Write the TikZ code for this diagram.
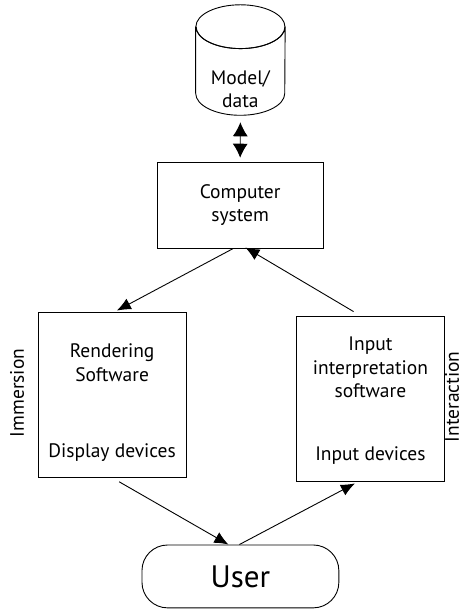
\documentclass[tikz,border=0pt]{standalone}
\usepackage{fontspec}
\setmainfont{PT Sans}
\usetikzlibrary{arrows.meta,positioning}
\tikzset{
  >={Latex[length=14pt,width=12pt]},
  box/.style 2 args={draw,line width=0.9pt,minimum width=#1,minimum height=#2,inner sep=0pt},
  dbarea/.style 2 args={minimum width=#1,minimum height=#2,inner sep=0pt},
  dbline/.style={line width=0.9pt},
  txt/.style={inner sep=0pt,align=center,font=\fontsize{19.5}{23.5}\selectfont},
  side/.style={txt,rotate=90},
  conn/.style={->,line width=0.9pt},
  dconn/.style={{Latex[length=14pt,width=15pt]}-{Latex[length=14pt,width=15pt]},line width=0.9pt},
}
\begin{document}
\begin{tikzpicture}
\useasboundingbox (0,0) rectangle (16.35cm,-21.44cm);
% --- Nodes -------------------------------------------------------------------

  \node[dbarea={3.13cm}{3.87cm}] (db) at (8.45cm,-2.11cm) {};
  \draw[dbline] ([yshift=-0.77cm]db.north west) -- ([yshift=0.77cm]db.south west)
    arc[start angle=180,end angle=360,x radius=1.565cm,y radius=0.77cm]
    -- ([yshift=-0.77cm]db.north east)
    arc[start angle=0,end angle=-180,x radius=1.565cm,y radius=0.77cm];
  \draw[dbline] ([yshift=-0.77cm]db.north) ellipse[x radius=1.565cm,y radius=0.77cm];
  \node[txt] (dbtxt) at (8.45cm,-3.13cm) {Model/\\data};

  \node[box={5.83cm}{3.02cm},txt] (comp) at (8.44cm,-7.21cm) {Computer\\system};

  \node[box={5.20cm}{5.83cm}] (rend) at (3.94cm,-13.88cm) {};
  \node[txt,below=1.14cm of rend.north] (rendsw) {Rendering\\Software};
  \node[txt,above=0.60cm of rend.south] (rendhw) {Display devices};

  \node[box={5.17cm}{5.80cm}] (inp) at (13.02cm,-14.01cm) {};
  \node[txt,below=0.74cm of inp.north] (inpsw) {Input\\interpretation\\software};
  \node[txt,above=0.60cm of inp.south] (inphw) {Input devices};

  \node[box={6.92cm}{2.21cm},rounded corners=0.9cm,font=\fontsize{31}{36}\selectfont] (user) at (8.45cm,-20.26cm) {User};

  \node[side] (imm) at (0.60cm,-13.81cm) {Immersion};
  \node[side] (inter) at (15.89cm,-13.95cm) {Interaction};

% --- Edges -------------------------------------------------------------------

  \draw[dconn,shorten <=7pt,shorten >=4pt] (db.south) -- (comp.north);

  \draw[conn,shorten >=2pt] ([xshift=-7pt]comp.south) -- ([xshift=3pt]rend.north);

  \draw[conn,shorten <=8pt,shorten >=-2pt] ([xshift=-10pt]inp.north) -- ([xshift=7pt]comp.south);

  \draw[conn,shorten <=7pt] ([xshift=1pt]rend.south) -- ([xshift=-12pt]user.north);

  \draw[conn,shorten >=4pt] ([xshift=-1pt]user.north) -- ([xshift=-12pt]inp.south);

\end{tikzpicture}
\end{document}
